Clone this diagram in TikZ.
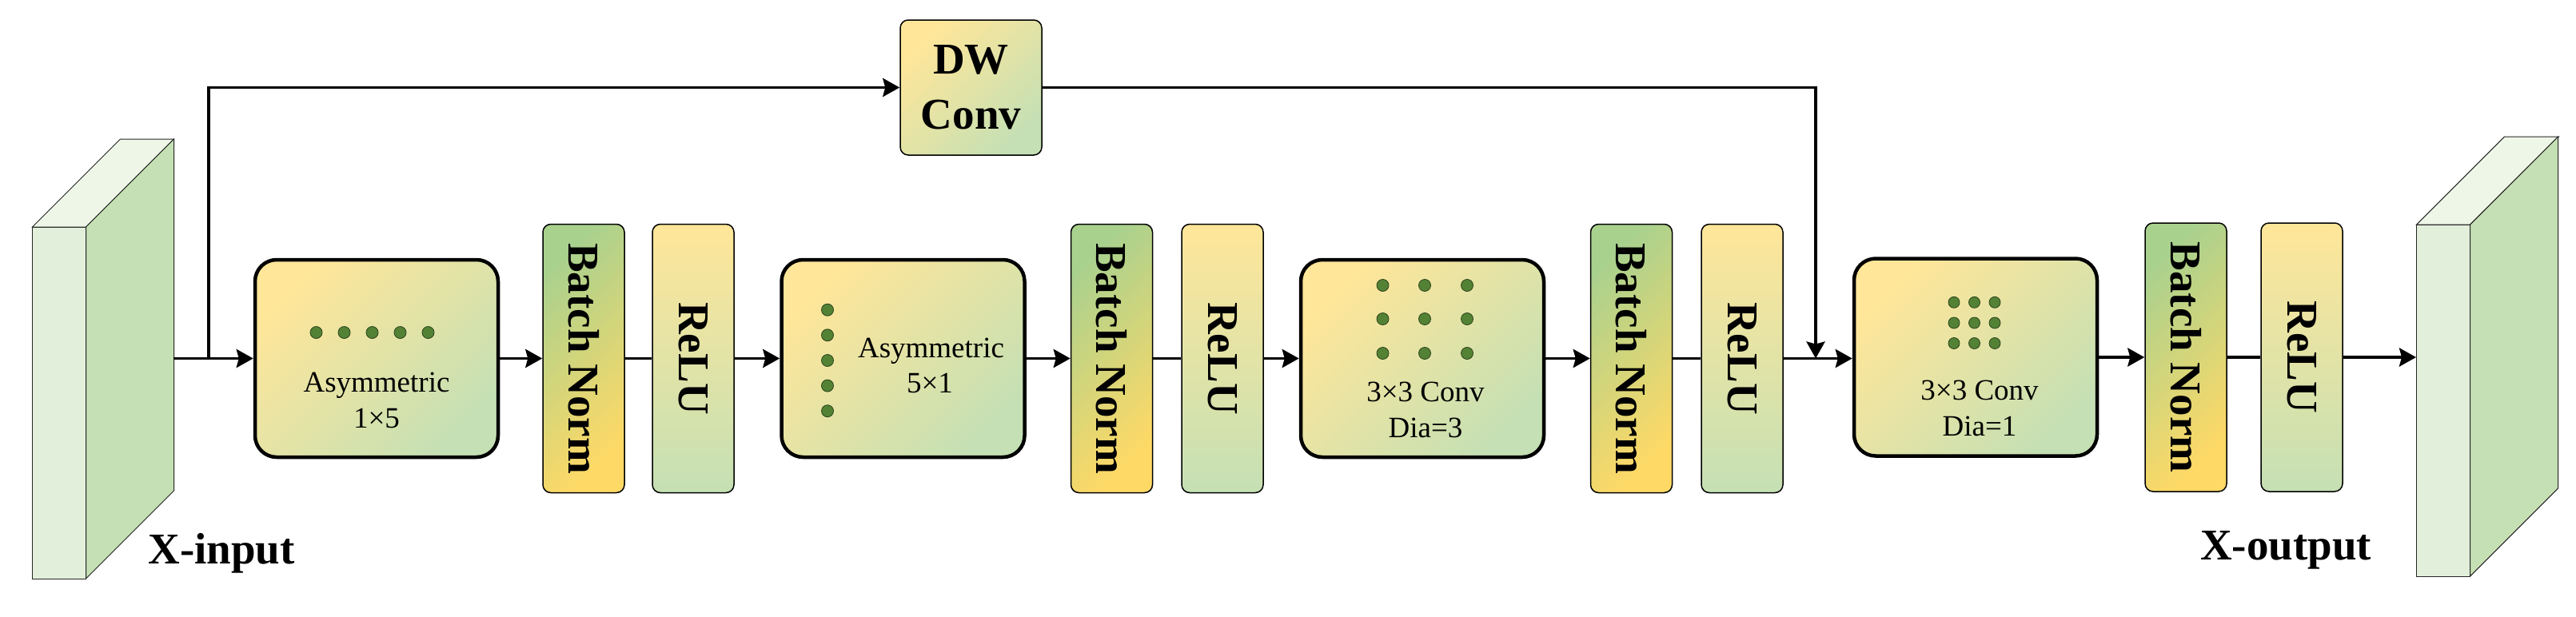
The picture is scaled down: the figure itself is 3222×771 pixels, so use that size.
\documentclass[tikz,border=0pt]{standalone}
\usepackage{fontspec}
\setmainfont{Liberation Serif}
\usetikzlibrary{arrows.meta}
\definecolor{yel}{HTML}{FFE699}
\definecolor{grn}{HTML}{C5E0B4}
\definecolor{bngreen}{HTML}{A9D18E}
\definecolor{bnyel}{HTML}{FFD966}
\definecolor{dotc}{HTML}{548235}
\definecolor{slabfront}{HTML}{E2EFDA}
\definecolor{slabtop}{HTML}{EEF6E8}
\definecolor{slabside}{HTML}{C5E0B4}
\tikzset{
  convbox/.style={draw, line width=4.5pt, rounded corners=27pt, minimum width=304pt, minimum height=247pt,
    top color=yel, bottom color=grn, shading angle=45, inner sep=0pt},
  bnbox/.style={draw, line width=1.5pt, rounded corners=10pt, minimum width=102pt, minimum height=336pt,
    top color=bngreen, bottom color=bnyel, shading angle=45, inner sep=0pt, font=\fontsize{55}{66}\selectfont\bfseries},
  relubox/.style={bnbox, top color=yel, bottom color=grn},
  dwbox/.style={draw, line width=1.5pt, rounded corners=10pt, minimum width=177pt, minimum height=169pt,
    top color=yel, bottom color=grn, shading angle=45, inner sep=0pt, align=center,
    font=\fontsize{55}{69}\selectfont\bfseries},
  slabface/.style={draw=black!85, line width=1pt},
  frontface/.style={slabface, fill=slabfront, minimum width=67pt, minimum height=440pt, inner sep=0pt, outer sep=0pt},
  txt/.style={font=\fontsize{37}{44}\selectfont, inner sep=0pt, anchor=base},
  biglbl/.style={font=\fontsize{55}{66}\selectfont\bfseries, inner sep=0pt, anchor=base},
  dot/.style={fill=dotc, draw=black!50!dotc, line width=0.8pt},
  conn/.style={line width=3.8pt, -{Stealth[length=21pt,width=23pt,inset=3pt]}},
  plain/.style={line width=3.8pt}
}
\begin{document}
\begin{tikzpicture}[x=1pt,y=-1pt]
\useasboundingbox (0,0) rectangle (3222,771);

% input slab
\node[frontface] (xin) at (74,504) {};
\draw[slabface, fill=slabtop] (xin.north west) -- ++(110,-110) -- ++(67,0) -- (xin.north east) -- cycle;
\draw[slabface, fill=slabside] (xin.north east) -- ++(110,-110) -- ++(0,440) -- (xin.south east) -- cycle;
\coordinate (inR) at (217,448.5);
\node[biglbl] (xinlbl) at (277,705) {X-input};

% output slab
\node[frontface] (xout) at (3056,501) {};
\draw[slabface, fill=slabtop] (xout.north west) -- ++(110,-110) -- ++(68,0) -- (xout.north east) -- cycle;
\draw[slabface, fill=slabside] (xout.north east) -- ++(110,-110) -- ++(0,440) -- (xout.south east) -- cycle;
\coordinate (outL) at (3022,448.5);
\node[biglbl] (xoutlbl) at (2859,700.5) {X-output};

% stage 1
\node[convbox] (asym1) at (471,448.5) {};
\foreach \x in {395.5,430.5,465.5,500.5,535.5} \filldraw[dot] (\x,416) circle[radius=7.5pt];
\node[txt] at (471,490.6) {Asymmetric};
\node[txt] at (471,535) {1×5};
\node[bnbox] (bn1) at (730,448.5) {\rotatebox{-90}{Batch Norm}};
\node[relubox] (relu1) at (867,448.5) {\rotatebox{-90}{ReLU}};

% stage 2
\node[convbox] (asym2) at (1129.5,448.5) {};
\foreach \y in {387.7,419.3,451,482.6,514.2} \filldraw[dot] (1035,\y) circle[radius=7.5pt];
\node[txt] at (1164.5,447.7) {Asymmetric};
\node[txt] at (1163,491.7) {5×1};
\node[bnbox] (bn2) at (1390.5,448.5) {\rotatebox{-90}{Batch Norm}};
\node[relubox] (relu2) at (1529,448.5) {\rotatebox{-90}{ReLU}};

% stage 3
\node[convbox] (conv3) at (1779,448.5) {};
\foreach \x in {1729.5,1782,1835} \foreach \y in {357,399,442} \filldraw[dot] (\x,\y) circle[radius=7.5pt];
\node[txt] at (1783,502.7) {3×3 Conv};
\node[txt] at (1783,547.7) {Dia=3};
\node[bnbox] (bn3) at (2040.5,448.5) {\rotatebox{-90}{Batch Norm}};
\node[relubox] (relu3) at (2179,448.5) {\rotatebox{-90}{ReLU}};

% stage 4
\node[convbox] (conv1) at (2471,447) {};
\foreach \x in {2444,2469.5,2495} \foreach \y in {378.3,404,429.5} \filldraw[dot] (\x,\y) circle[radius=7pt];
\node[txt] at (2476,500) {3×3 Conv};
\node[txt] at (2476,545) {Dia=1};
\node[bnbox] (bn4) at (2734,447) {\rotatebox{-90}{Batch Norm}};
\node[relubox] (relu4) at (2879,447) {\rotatebox{-90}{ReLU}};

% DW conv
\node[dwbox] (dw) at (1214.5,109.5) {DW\\Conv};

% main connectors
\draw[conn] (inR) -- (asym1.west);
\draw[conn] (asym1) -- (bn1);
\draw[plain] (bn1) -- (relu1);
\draw[conn] (relu1) -- (asym2);
\draw[conn] (asym2) -- (bn2);
\draw[plain] (bn2) -- (relu2);
\draw[conn] (relu2) -- (conv3);
\draw[conn] (conv3) -- (bn3);
\draw[plain] (bn3) -- (relu3);
\draw[conn] (relu3.east) -- (conv1.west |- relu3.east);
\draw[conn] (conv1) -- (bn4);
\draw[plain] (bn4) -- (relu4);
\draw[conn] (relu4.east) -- (outL |- relu4.east);

% skip
\coordinate (split) at (261,448.5);
\coordinate (join) at (2271,448.5);
\draw[conn] (split) |- (dw.west);
\draw[conn] (dw.east) -| (join);
\end{tikzpicture}
\end{document}
